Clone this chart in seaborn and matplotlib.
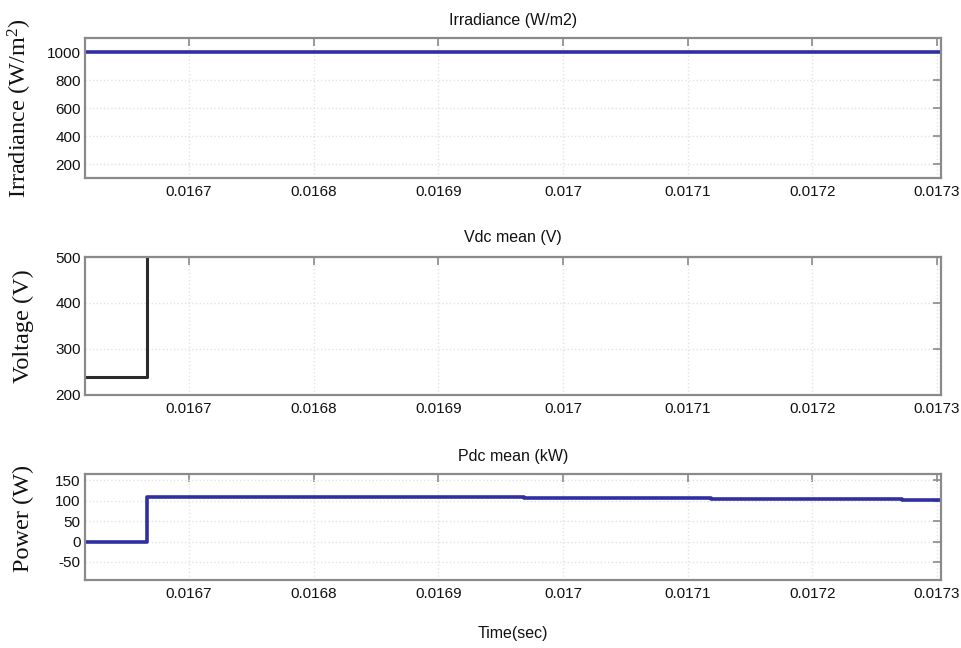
import numpy as np
import pandas as pd
import matplotlib
matplotlib.use("Agg")
import matplotlib.pyplot as plt
import seaborn as sns

# ---- data ----
t_irr = [0.016616, 0.016700, 0.016800, 0.016900, 0.017000, 0.017100, 0.017200, 0.017304]
irradiance = [1000, 1000, 1000, 1000, 1000, 1000, 1000, 1000]

t_vdc = [0.016616, 0.016666, 0.017304]
vdc = [240, 620, 620]

t_pdc = [0.016616, 0.016666, 0.016769, 0.016819, 0.016869, 0.016919, 0.016969,
         0.017019, 0.017069, 0.017119, 0.017170, 0.017220, 0.017272, 0.017304]
pdc = [0, 109.5, 109.2, 108.9, 108.5, 108.0, 107.4, 106.7, 105.9, 105.0,
       104.0, 103.0, 102.0, 102.0]

xticks = [0.0167, 0.0168, 0.0169, 0.0170, 0.0171, 0.0172, 0.0173]
xticklabels = ["0.0167", "0.0168", "0.0169", "0.017", "0.0171", "0.0172", "0.0173"]

sns.set_theme(style="white")
plt.rcParams["font.family"] = ["Liberation Sans Narrow", "Liberation Sans", "DejaVu Sans"]
plt.rcParams["mathtext.fontset"] = "custom"
plt.rcParams["mathtext.rm"] = "Liberation Serif"
plt.rcParams["mathtext.it"] = "Liberation Serif:italic"

fig = plt.figure(figsize=(9.61, 6.48), dpi=100)
L, W = 85 / 961, 856 / 961
ax1 = fig.add_axes([L, 1 - 178 / 648, W, 140 / 648])
ax2 = fig.add_axes([L, 1 - 395 / 648, W, 138 / 648])
ax3 = fig.add_axes([L, 1 - 580 / 648, W, 106 / 648])

blue = "#2f2fa2"
dark = "#2a2a2a"

sns.lineplot(x=t_irr, y=irradiance, ax=ax1, color=blue, linewidth=2.6, estimator=None)
sns.lineplot(x=t_vdc, y=vdc, ax=ax2, color=dark, linewidth=2.2, estimator=None,
             drawstyle="steps-post")
sns.lineplot(x=t_pdc, y=pdc, ax=ax3, color=blue, linewidth=2.6, estimator=None,
             drawstyle="steps-post")

xlim = (0.0166166, 0.0173032)
specs = [
    (ax1, (100, 1100), [200, 400, 600, 800, 1000], "Irradiance (W/m2)", "Irradiance (W/m$^2$)", 0.5, 9),
    (ax2, (200, 500), [200, 300, 400, 500], "Vdc mean (V)", "Voltage (V)", 0.5, 11),
    (ax3, (-94, 165), [-50, 0, 50, 100, 150], "Pdc mean (kW)", "Power (W)", 0.58, 9),
]
spine_c = "#8a8a8a"
for ax, ylim, yt, title, ylab, ly, tpad in specs:
    ax.set_xlim(*xlim)
    ax.set_ylim(*ylim)
    ax.set_xticks(xticks)
    ax.set_xticklabels(xticklabels)
    ax.set_yticks(yt)
    ax.set_yticklabels([str(v) for v in yt])
    ax.grid(True, color="#e2e2e2", linestyle=":", linewidth=1.0)
    for s in ax.spines.values():
        s.set_color(spine_c)
        s.set_linewidth(1.6)
        s.set_visible(True)
    ax.tick_params(axis="both", direction="in", length=6, width=1.2, color=spine_c,
                   top=True, right=True, labelsize=11, labelcolor="#111111", pad=5)
    ax.tick_params(axis="y", pad=3)
    ax.set_title(title, fontsize=11.5, pad=tpad, color="#111111")
    ax.set_ylabel(ylab, fontsize=17.5, family="Liberation Serif", color="#111111")
    ax.yaxis.set_label_coords(-0.060, ly)
    ax.set_xlabel("")

ax3.set_xlabel("Time(sec)", fontsize=11.5, color="#111111", labelpad=18)

fig.savefig("out.png", dpi=100)
